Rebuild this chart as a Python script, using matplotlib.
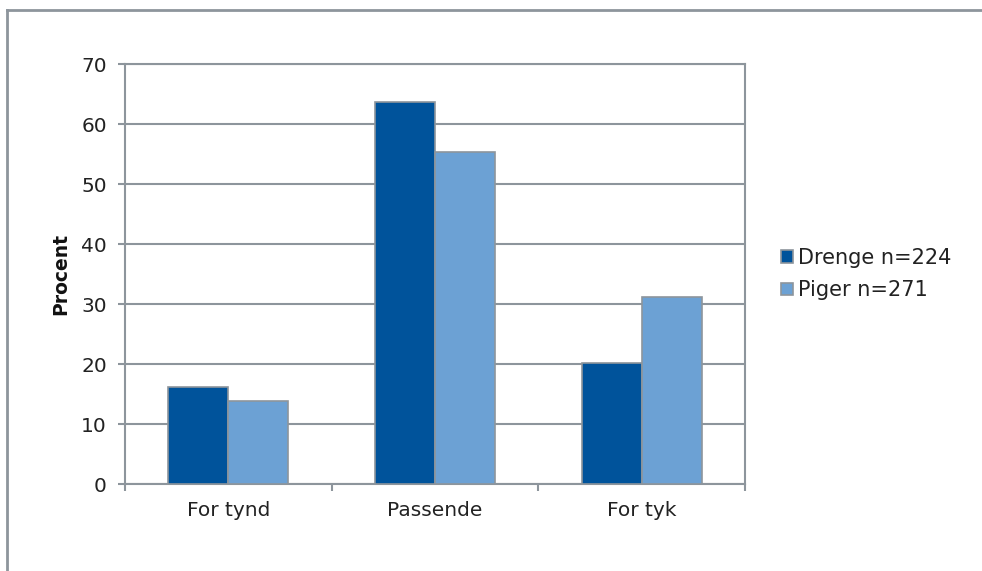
import numpy as np
import matplotlib
matplotlib.use("Agg")
from matplotlib import pyplot as plt
from matplotlib.lines import Line2D

categories = ["For tynd", "Passende", "For tyk"]
drenge = [16.2, 63.7, 20.2]
piger = [13.8, 55.4, 31.2]
series_labels = ["Drenge n=224", "Piger n=271"]

grid_col = "#8d959c"
dark = "#00539b"
light = "#6ca1d4"

plt.rcParams['font.family'] = ['DejaVu Sans']

fig = plt.figure(figsize=(9.82, 5.71), dpi=100)
ax = fig.add_axes([125/982, 1-484/571, 620/982, 420/571])

x = np.arange(len(categories))
w = 0.29
ax.bar(x - w/2, drenge, w, color=dark, edgecolor=grid_col, linewidth=1.2, label=series_labels[0], zorder=3)
ax.bar(x + w/2, piger, w, color=light, edgecolor=grid_col, linewidth=1.2, label=series_labels[1], zorder=3)

ax.set_xlim(-0.5, 2.5)
ax.set_ylim(0, 70)
ax.set_yticks(range(0, 71, 10))
ax.yaxis.grid(True, color=grid_col, linewidth=1.5, zorder=0)
ax.set_axisbelow(True)

# category boundaries get the tick marks, names sit in between
ax.set_xticks([-0.5, 0.5, 1.5, 2.5])
ax.set_xticklabels([])
ax.set_xticks(x, minor=True)
ax.set_xticklabels(categories, minor=True)
ax.tick_params(axis='x', which='minor', length=0, pad=12, labelsize=14.5, labelcolor='#222222')
ax.tick_params(axis='x', which='major', length=5, width=1.5, color=grid_col, direction='out')
ax.tick_params(axis='y', length=5, width=1.5, color=grid_col, labelsize=14.5, labelcolor='#222222', pad=8)

for s in ax.spines.values():
    s.set_color(grid_col)
    s.set_linewidth(1.5)

ax.set_ylabel("Procent", fontsize=13.5, fontweight='bold', labelpad=8, color='#111111')

ax.legend(loc='center left', bbox_to_anchor=(1.045, 0.5), frameon=False, fontsize=15,
          handlelength=0.55, handleheight=0.55, handletextpad=0.25, labelspacing=0.6,
          borderaxespad=0, labelcolor='#222222')

# outer chart border (top and left visible)
fig.add_artist(Line2D([7/982, 1], [1-10/571, 1-10/571], color=grid_col, linewidth=2))
fig.add_artist(Line2D([7/982, 7/982], [0, 1-10/571], color=grid_col, linewidth=2))

fig.savefig("out.png", dpi=100)
